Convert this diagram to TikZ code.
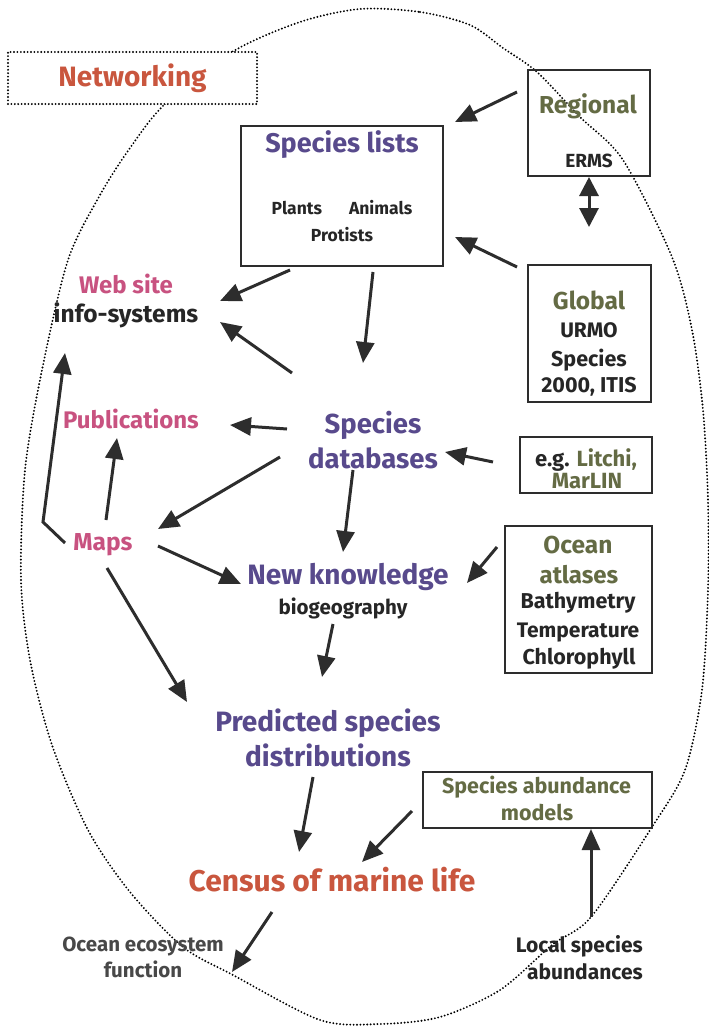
\documentclass[tikz,border=0pt]{standalone}
\usepackage{fontspec}
\setmainfont{Fira Sans}
\usetikzlibrary{arrows.meta}
\definecolor{purp}{RGB}{88,74,140}
\definecolor{pinkc}{RGB}{200,82,128}
\definecolor{orng}{RGB}{201,86,62}
\definecolor{olive}{RGB}{100,107,68}
\definecolor{darkc}{RGB}{38,38,38}
\definecolor{greyc}{RGB}{72,72,72}
\definecolor{arrc}{RGB}{45,45,45}
\newcommand\fsz[1]{\fontsize{#1}{#1}\selectfont}
\begin{document}
\begin{tikzpicture}[x=1pt,y=-1pt,
  txt/.style={inner sep=0pt, font=\bfseries, text=darkc},
  boxn/.style={draw=arrc, line width=2pt, inner sep=0pt},
  arr/.style={draw=arrc, line width=3pt, -{Triangle[length=21pt,width=18pt]}},
  dbl/.style={draw=arrc, line width=3pt, {Triangle[length=19pt,width=19pt]}-{Triangle[length=19pt,width=19pt]}},
  dots/.style={draw=black, line width=2.1pt, line cap=round, dash pattern=on 0pt off 3.4pt}]
\useasboundingbox (0,0) rectangle (709,1028);
\fill[white] (0,0) rectangle (709,1028);
% big dotted loop
\draw[dots] plot[smooth cycle] coordinates {(360,9) (420,12) (470,25) (503,48) (537,72) (580,117) (623,160) (672,257) (692,330) (703,410) (708,500) (708,590) (702,690) (685,770) (652,827) (591,917) (552,945) (500,990) (440,1017) (380,1024) (320,1020) (233,975) (183,947) (130,892) (88,830) (52,745) (30,660) (21,580) (25,470) (42,370) (68,260) (100,195) (130,148) (165,104) (232,52) (300,22)};
% Networking
\node[dots, fill=white, inner sep=0pt, minimum width=249pt, minimum height=52pt, font=\bfseries\fsz{28}, text=orng] (net) at (132.5,78) {Networking};
% Species lists box
\node[boxn, minimum width=202pt, minimum height=140pt] (lists) at (342,196) {};
\node[txt, font=\bfseries\fsz{27}, text=purp] (liststitle) at (342,145) {Species lists};
\node[txt, font=\bfseries\fsz{17.5}] (plants) at (342,208) {Plants\hspace{27pt}Animals};
\node[txt, font=\bfseries\fsz{17.5}] (protists) at (342,235) {Protists};
% Regional
\node[boxn, minimum width=122pt, minimum height=106pt] (regional) at (589,123) {};
\node[txt, font=\bfseries\fsz{24.5}, text=olive] (regt) at (588,106) {Regional};
\node[txt, font=\bfseries\fsz{19}] (erms) at (589,161) {ERMS};
% Global
\node[boxn, minimum width=123pt, minimum height=137pt] (global) at (589.5,333.5) {};
\node[txt, font=\bfseries\fsz{24.5}, text=olive] (globt) at (589,300) {Global};
\node[txt, font=\bfseries\fsz{21}] (urmo) at (589,330) {URMO};
\node[txt, font=\bfseries\fsz{21.5}] (sp2000) at (589,360) {Species};
\node[txt, font=\bfseries\fsz{21.5}] (itis) at (589,387) {2000, ITIS};
% e.g. Litchi
\node[boxn, minimum width=132pt, minimum height=56pt] (eg) at (586,465) {};
\node[txt, font=\bfseries\fsz{22}] (egt) at (586,460) {e.g. \textcolor{olive}{Litchi,}};
\node[txt, font=\bfseries\fsz{22}, text=olive] (marlin) at (587,481) {MarLIN};
% Ocean atlases
\node[boxn, minimum width=147pt, minimum height=147pt] (atlas) at (578.5,599.5) {};
\node[txt, font=\bfseries\fsz{24.5}, text=olive] (ocean) at (578,545) {Ocean};
\node[txt, font=\bfseries\fsz{24}, text=olive] (atlases) at (579,575) {atlases};
\node[txt, font=\bfseries\fsz{21.5}] (bathy) at (578,603) {Bathymetry};
\node[txt, font=\bfseries\fsz{21}] (temp) at (578,633) {Temperature};
\node[txt, font=\bfseries\fsz{21.5}] (chloro) at (579,659) {Chlorophyll};
% Species abundance models
\node[boxn, minimum width=229pt, minimum height=56pt] (sam) at (537.5,800) {};
\node[txt, font=\bfseries\fsz{21.5}, text=olive] (samt) at (536.5,787) {Species abundance};
\node[txt, font=\bfseries\fsz{21.5}, text=olive] (models) at (537,813) {models};
% free text
\node[txt, font=\bfseries\fsz{24}, text=pinkc] (web) at (126,284) {Web site};
\node[txt, font=\bfseries\fsz{24.5}] (info) at (126,315) {info-systems};
\node[txt, font=\bfseries\fsz{24}, text=pinkc] (pubs) at (131,419) {Publications};
\node[txt, font=\bfseries\fsz{24.5}, text=pinkc] (maps) at (103,545) {Maps};
\node[txt, font=\bfseries\fontsize{27.5}{35}\selectfont, text=purp, align=center] (db) at (373,440) {Species\\databases};
\node[txt, font=\bfseries\fsz{28}, text=purp] (newk) at (348,577) {New knowledge};
\node[txt, font=\bfseries\fsz{20.5}] (biogeo) at (343,608) {biogeography};
\node[txt, font=\bfseries\fontsize{28}{35}\selectfont, text=purp, align=center] (pred) at (328,737.5) {Predicted species\\distributions};
\node[txt, font=\bfseries\fsz{30}, text=orng] (census) at (332,880) {Census of marine life};
\node[txt, font=\bfseries\fontsize{20.5}{26}\selectfont, text=greyc, align=center] (oceco) at (143,957) {Ocean ecosystem\\function};
\node[txt, font=\bfseries\fontsize{21}{27}\selectfont, align=right, anchor=east] (local) at (643,958) {Local species\\abundances};
% connector end points
\coordinate (regional-o) at (517,92);   \coordinate (lists-i1) at (455,122);
\coordinate (global-o) at (517,267);    \coordinate (lists-i2) at (455,237);
\coordinate (erms-a) at (589,177);      \coordinate (global-a) at (589,227);
\coordinate (lists-o1) at (290,270);    \coordinate (web-i1) at (220,301);
\coordinate (lists-o2) at (373,272);    \coordinate (db-i1) at (363,363);
\coordinate (db-o1) at (292,373);       \coordinate (web-i2) at (220,322);
\coordinate (db-o2) at (287,429);       \coordinate (pubs-i1) at (230,425);
\coordinate (eg-o) at (493,462);        \coordinate (db-i2) at (445,452);
\coordinate (db-o3) at (280,457);       \coordinate (maps-i) at (158,529);
\coordinate (db-o4) at (353,470);       \coordinate (newk-i1) at (343,552);
\coordinate (maps-o1) at (106,520);     \coordinate (pubs-i2) at (117,438);
\coordinate (maps-o2) at (65,543);      \coordinate (bend) at (43,522);   \coordinate (web-i3) at (65,353);
\coordinate (maps-o3) at (158,546);     \coordinate (newk-i2) at (241,584);
\coordinate (maps-o4) at (107,568);     \coordinate (pred-i1) at (187,702);
\coordinate (atlas-o) at (497,547);     \coordinate (newk-i3) at (467,583);
\coordinate (biogeo-o) at (333,624);    \coordinate (pred-i2) at (322,677);
\coordinate (pred-o) at (313,777);      \coordinate (census-i1) at (299,852);
\coordinate (sam-o) at (412,811);       \coordinate (census-i2) at (362,862);
\coordinate (census-o) at (272,912);    \coordinate (oceco-i) at (232,972);
\coordinate (local-o) at (591,917);     \coordinate (sam-i) at (591,829);
% connectors
\draw[arr] (regional-o) -- (lists-i1);
\draw[arr] (global-o) -- (lists-i2);
\draw[dbl] (erms-a) -- (global-a);
\draw[arr] (lists-o1) -- (web-i1);
\draw[arr] (lists-o2) -- (db-i1);
\draw[arr] (db-o1) -- (web-i2);
\draw[arr] (db-o2) -- (pubs-i1);
\draw[arr] (eg-o) -- (db-i2);
\draw[arr] (db-o3) -- (maps-i);
\draw[arr] (db-o4) -- (newk-i1);
\draw[arr] (maps-o1) -- (pubs-i2);
\draw[arr] (maps-o2) -- (bend) -- (web-i3);
\draw[arr] (maps-o3) -- (newk-i2);
\draw[arr] (maps-o4) -- (pred-i1);
\draw[arr] (atlas-o) -- (newk-i3);
\draw[arr] (biogeo-o) -- (pred-i2);
\draw[arr] (pred-o) -- (census-i1);
\draw[arr] (sam-o) -- (census-i2);
\draw[arr] (census-o) -- (oceco-i);
\draw[arr] (local-o) -- (sam-i);
\end{tikzpicture}
\end{document}
